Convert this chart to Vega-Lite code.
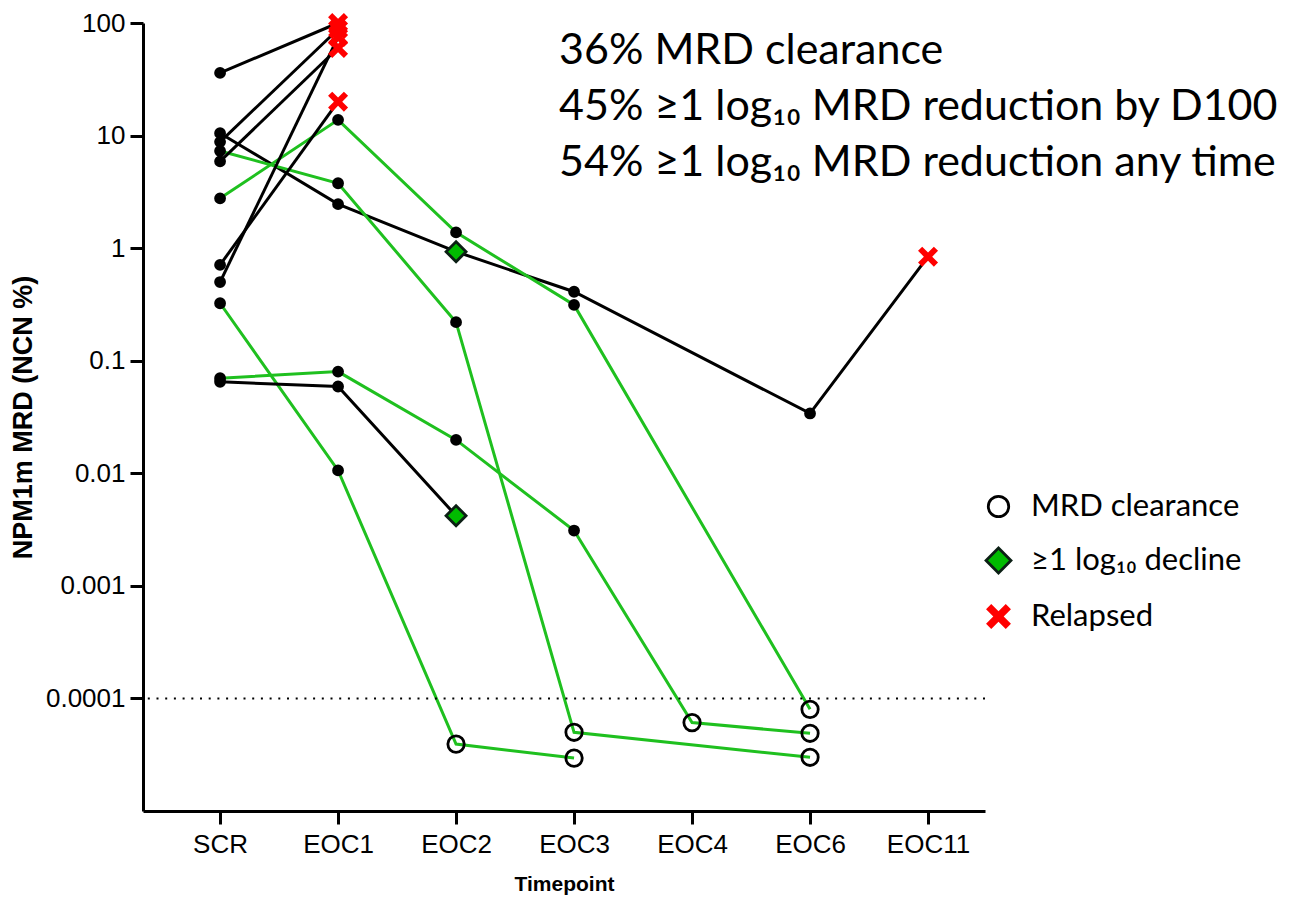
{
  "$schema": "https://vega.github.io/schema/vega-lite/v6.json",
  "width": 842,
  "height": 788,
  "autosize": {"type": "none"},
  "padding": {"left": 143, "top": 23, "right": 311, "bottom": 91},
  "background": "white",
  "config": {
    "view": {"stroke": null},
    "font": "Liberation Sans",
    "axis": {
      "domainColor": "black", "domainWidth": 3, "tickColor": "black", "tickWidth": 3,
      "labelColor": "black", "labelFont": "Liberation Sans", "labelFontSize": 26,
      "titleFont": "Liberation Sans", "titleFontSize": 24, "titleFontWeight": "bold", "titleColor": "black",
      "grid": false
    },
    "legend": {"labelLimit": 0}
  },
  "data": {
    "values": [
      {"patient": "P1", "group": "relapse", "timepoint": "SCR", "mrd": 36, "status": "Detectable"},
      {"patient": "P1", "group": "relapse", "timepoint": "EOC1", "mrd": 100, "status": "Relapsed"},
      {"patient": "P2", "group": "relapse", "timepoint": "SCR", "mrd": 10.5, "status": "Detectable"},
      {"patient": "P2", "group": "relapse", "timepoint": "EOC1", "mrd": 2.46, "status": "Detectable"},
      {"patient": "P2", "group": "relapse", "timepoint": "EOC2", "mrd": 0.93, "status": "≥1 log₁₀ decline"},
      {"patient": "P2", "group": "relapse", "timepoint": "EOC3", "mrd": 0.41, "status": "Detectable"},
      {"patient": "P2", "group": "relapse", "timepoint": "EOC6", "mrd": 0.034, "status": "Detectable"},
      {"patient": "P2", "group": "relapse", "timepoint": "EOC11", "mrd": 0.84, "status": "Relapsed"},
      {"patient": "P3", "group": "relapse", "timepoint": "SCR", "mrd": 8.8, "status": "Detectable"},
      {"patient": "P3", "group": "relapse", "timepoint": "EOC1", "mrd": 88, "status": "Relapsed"},
      {"patient": "P4", "group": "response", "timepoint": "SCR", "mrd": 7.3, "status": "Detectable"},
      {"patient": "P4", "group": "response", "timepoint": "EOC1", "mrd": 3.77, "status": "Detectable"},
      {"patient": "P4", "group": "response", "timepoint": "EOC2", "mrd": 0.22, "status": "Detectable"},
      {"patient": "P4", "group": "response", "timepoint": "EOC3", "mrd": 0.00005, "status": "MRD clearance"},
      {"patient": "P4", "group": "response", "timepoint": "EOC6", "mrd": 0.00003, "status": "MRD clearance"},
      {"patient": "P5", "group": "relapse", "timepoint": "SCR", "mrd": 5.9, "status": "Detectable"},
      {"patient": "P5", "group": "relapse", "timepoint": "EOC1", "mrd": 60, "status": "Relapsed"},
      {"patient": "P6", "group": "response", "timepoint": "SCR", "mrd": 2.77, "status": "Detectable"},
      {"patient": "P6", "group": "response", "timepoint": "EOC1", "mrd": 13.8, "status": "Detectable"},
      {"patient": "P6", "group": "response", "timepoint": "EOC2", "mrd": 1.38, "status": "Detectable"},
      {"patient": "P6", "group": "response", "timepoint": "EOC3", "mrd": 0.313, "status": "Detectable"},
      {"patient": "P6", "group": "response", "timepoint": "EOC6", "mrd": 0.00008, "status": "MRD clearance"},
      {"patient": "P7", "group": "relapse", "timepoint": "SCR", "mrd": 0.71, "status": "Detectable"},
      {"patient": "P7", "group": "relapse", "timepoint": "EOC1", "mrd": 20, "status": "Relapsed"},
      {"patient": "P8", "group": "relapse", "timepoint": "SCR", "mrd": 0.5, "status": "Detectable"},
      {"patient": "P8", "group": "relapse", "timepoint": "EOC1", "mrd": 75, "status": "Relapsed"},
      {"patient": "P9", "group": "response", "timepoint": "SCR", "mrd": 0.324, "status": "Detectable"},
      {"patient": "P9", "group": "response", "timepoint": "EOC1", "mrd": 0.0106, "status": "Detectable"},
      {"patient": "P9", "group": "response", "timepoint": "EOC2", "mrd": 0.0000393, "status": "MRD clearance"},
      {"patient": "P9", "group": "response", "timepoint": "EOC3", "mrd": 0.0000295, "status": "MRD clearance"},
      {"patient": "P10", "group": "response", "timepoint": "SCR", "mrd": 0.07, "status": "Detectable"},
      {"patient": "P10", "group": "response", "timepoint": "EOC1", "mrd": 0.08, "status": "Detectable"},
      {"patient": "P10", "group": "response", "timepoint": "EOC2", "mrd": 0.0198, "status": "Detectable"},
      {"patient": "P10", "group": "response", "timepoint": "EOC3", "mrd": 0.0031, "status": "Detectable"},
      {"patient": "P10", "group": "response", "timepoint": "EOC4", "mrd": 0.000061, "status": "MRD clearance"},
      {"patient": "P10", "group": "response", "timepoint": "EOC6", "mrd": 0.000049, "status": "MRD clearance"},
      {"patient": "P11", "group": "relapse", "timepoint": "SCR", "mrd": 0.065, "status": "Detectable"},
      {"patient": "P11", "group": "relapse", "timepoint": "EOC1", "mrd": 0.059, "status": "Detectable"},
      {"patient": "P11", "group": "relapse", "timepoint": "EOC2", "mrd": 0.0042, "status": "≥1 log₁₀ decline"}
    ]
  },
  "layer": [
    {
      "mark": {"type": "line", "strokeWidth": 3},
      "encoding": {
        "x": {"field": "timepoint", "type": "nominal",
          "scale": {"type": "point", "domain": ["SCR", "EOC1", "EOC2", "EOC3", "EOC4", "EOC6", "EOC11"], "padding": 0.568, "align": 0.575},
          "axis": {"title": "Timepoint", "labelAngle": 0, "tickSize": 13, "labelPadding": 7, "titlePadding": 16, "titleFontSize": 21}},
        "y": {"field": "mrd", "type": "quantitative",
          "scale": {"type": "log", "domain": [0.00001, 100]},
          "axis": {"title": "NPM1m MRD (NCN %)", "values": [0.0001, 0.001, 0.01, 0.1, 1, 10, 100], "format": "~g", "tickSize": 13, "labelPadding": 5, "titlePadding": 8, "titleFontSize": 27}},
        "color": {"field": "group", "type": "nominal", "scale": {"domain": ["relapse", "response"], "range": ["#000000", "#1fc01f"]}, "legend": null},
        "detail": {"field": "patient"},
        "order": {"value": null}
      }
    },
    {
      "data": {"values": [{}]},
      "mark": {"type": "rule", "strokeDash": [2, 6.7], "strokeWidth": 2, "color": "black"},
      "encoding": {"y": {"datum": 0.0001, "type": "quantitative", "scale": {"type": "log", "domain": [0.00001, 100]},
        "axis": {"title": "NPM1m MRD (NCN %)", "values": [0.0001, 0.001, 0.01, 0.1, 1, 10, 100], "format": "~g", "tickSize": 13, "labelPadding": 5, "titlePadding": 8, "titleFontSize": 27}}}
    },
    {
      "mark": {"type": "point", "size": 400, "strokeWidth": 2.8, "opacity": 1, "filled": false},
      "encoding": {
        "x": {"field": "timepoint", "type": "nominal",
          "scale": {"type": "point", "domain": ["SCR", "EOC1", "EOC2", "EOC3", "EOC4", "EOC6", "EOC11"], "padding": 0.568, "align": 0.575},
          "axis": {"title": "Timepoint", "labelAngle": 0, "tickSize": 13, "labelPadding": 7, "titlePadding": 16, "titleFontSize": 21}},
        "y": {"field": "mrd", "type": "quantitative", "scale": {"type": "log", "domain": [0.00001, 100]},
          "axis": {"title": "NPM1m MRD (NCN %)", "values": [0.0001, 0.001, 0.01, 0.1, 1, 10, 100], "format": "~g", "tickSize": 13, "labelPadding": 5, "titlePadding": 8, "titleFontSize": 27}},
        "shape": {"field": "status", "type": "nominal",
          "scale": {"domain": ["MRD clearance", "≥1 log₁₀ decline", "Relapsed", "Detectable"],
            "range": [
              "M-0.82,0A0.82,0.82,0,1,0,0.82,0A0.82,0.82,0,1,0,-0.82,0Z",
              "M0,-1L1,0L0,1L-1,0Z",
              "M-0.583,-1L0,-0.417L0.583,-1L1,-0.583L0.417,0L1,0.583L0.583,1L0,0.417L-0.583,1L-1,0.583L-0.417,0L-1,-0.583Z",
              "M-0.45,0A0.45,0.45,0,1,0,0.45,0A0.45,0.45,0,1,0,-0.45,0Z"
            ]},
          "legend": {"values": ["MRD clearance", "≥1 log₁₀ decline", "Relapsed"], "title": null, "orient": "none", "legendX": 840, "legendY": 468,
            "labelFont": "Lato, Noto Sans", "labelFontSize": 31, "labelColor": "black", "labelLimit": 0, "symbolSize": 620, "symbolStrokeWidth": 2.8, "rowPadding": 19, "labelOffset": 17,
            "encode": {"symbols": {
              "fill": {"value": {"expr": "datum.value === '≥1 log₁₀ decline' ? '#4ea72e' : (datum.value === 'Relapsed' ? '#ff0000' : 'transparent')"}},
              "stroke": {"value": {"expr": "datum.value === 'Relapsed' ? 'transparent' : '#0e2733'"}}}}}},
        "fill": {"field": "status", "type": "nominal",
          "scale": {"domain": ["MRD clearance", "≥1 log₁₀ decline", "Relapsed", "Detectable"], "range": ["transparent", "#00bb00", "#ff0000", "#000000"]},
          "legend": {"values": ["MRD clearance", "≥1 log₁₀ decline", "Relapsed"], "title": null, "orient": "none", "legendX": 840, "legendY": 468,
            "labelFont": "Lato, Noto Sans", "labelFontSize": 31, "labelColor": "black", "labelLimit": 0, "symbolSize": 620, "symbolStrokeWidth": 2.8, "rowPadding": 19, "labelOffset": 17,
            "encode": {"symbols": {
              "fill": {"value": {"expr": "datum.value === '≥1 log₁₀ decline' ? '#4ea72e' : (datum.value === 'Relapsed' ? '#ff0000' : 'transparent')"}},
              "stroke": {"value": {"expr": "datum.value === 'Relapsed' ? 'transparent' : '#0e2733'"}}}}}},
        "stroke": {"field": "status", "type": "nominal",
          "scale": {"domain": ["MRD clearance", "≥1 log₁₀ decline", "Relapsed", "Detectable"], "range": ["#000000", "#0b1f14", "transparent", "#000000"]},
          "legend": {"values": ["MRD clearance", "≥1 log₁₀ decline", "Relapsed"], "title": null, "orient": "none", "legendX": 840, "legendY": 468,
            "labelFont": "Lato, Noto Sans", "labelFontSize": 31, "labelColor": "black", "labelLimit": 0, "symbolSize": 620, "symbolStrokeWidth": 2.8, "rowPadding": 19, "labelOffset": 17,
            "encode": {"symbols": {
              "fill": {"value": {"expr": "datum.value === '≥1 log₁₀ decline' ? '#4ea72e' : (datum.value === 'Relapsed' ? '#ff0000' : 'transparent')"}},
              "stroke": {"value": {"expr": "datum.value === 'Relapsed' ? 'transparent' : '#0e2733'"}}}}}}
      }
    },
    {
      "data": {"values": [{}]},
      "mark": {"type": "text", "align": "left", "baseline": "alphabetic", "font": "Lato, Noto Sans", "fontSize": 43, "lineHeight": 56, "color": "black", "dx": -15},
      "encoding": {
        "x": {"datum": "EOC3", "type": "nominal", "scale": {"type": "point", "domain": ["SCR", "EOC1", "EOC2", "EOC3", "EOC4", "EOC6", "EOC11"], "padding": 0.568, "align": 0.575},
          "axis": {"title": "Timepoint", "labelAngle": 0, "tickSize": 13, "labelPadding": 7, "titlePadding": 16, "titleFontSize": 21}},
        "y": {"datum": 43, "type": "quantitative", "scale": {"type": "log", "domain": [0.00001, 100]},
          "axis": {"title": "NPM1m MRD (NCN %)", "values": [0.0001, 0.001, 0.01, 0.1, 1, 10, 100], "format": "~g", "tickSize": 13, "labelPadding": 5, "titlePadding": 8, "titleFontSize": 27}},
        "text": {"value": ["36% MRD clearance", "45% ≥1 log₁₀ MRD reduction by D100", "54% ≥1 log₁₀ MRD reduction any time"]}
      }
    }
  ]
}
